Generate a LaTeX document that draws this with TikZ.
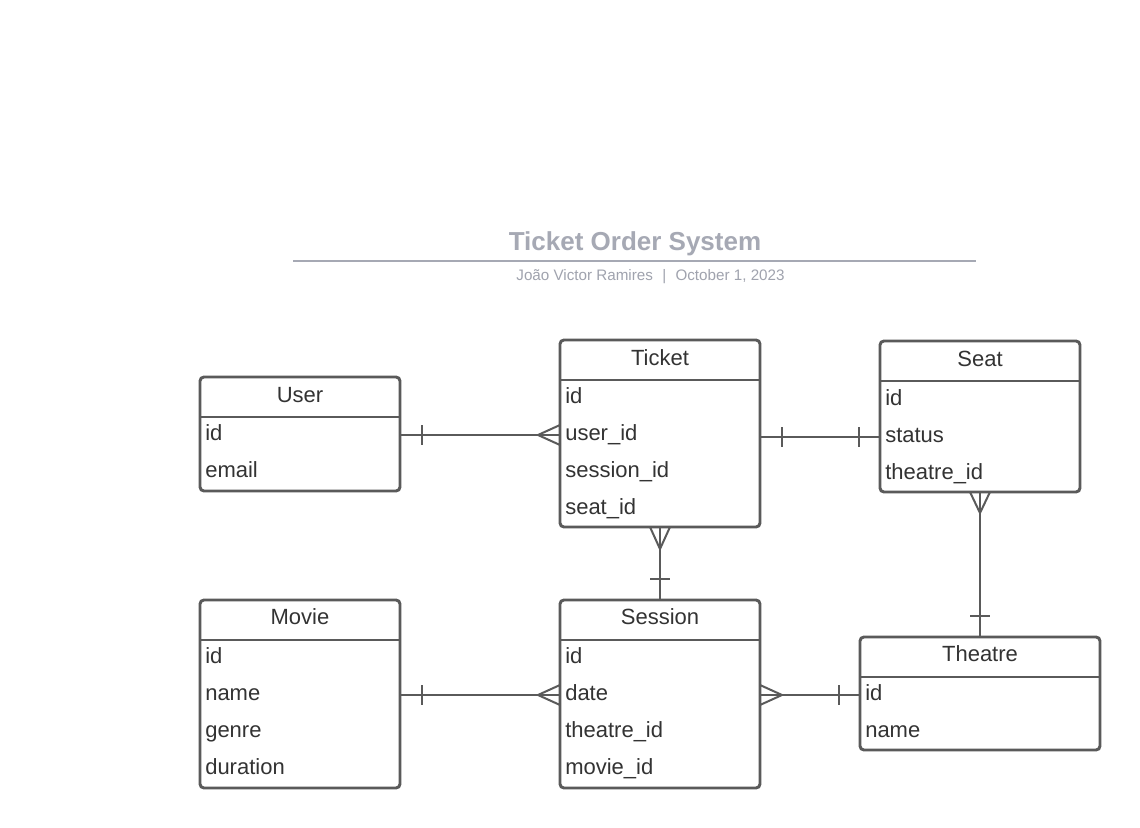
\documentclass[tikz,border=0pt]{standalone}
\usepackage{fontspec}
\setmainfont{Liberation Sans}
\usetikzlibrary{calc}
\definecolor{stroke}{RGB}{90,90,90}
\definecolor{txt}{RGB}{51,51,51}
\definecolor{ttlc}{RGB}{166,169,180}
\definecolor{subc}{RGB}{160,163,174}
\begin{document}
\begin{tikzpicture}[x=0.75pt,y=-0.75pt,
  box/.style={draw=stroke,line width=2.2pt,rounded corners=3pt,outer sep=0pt,inner sep=0pt,anchor=north west,minimum width=150pt},
  sep/.style={draw=stroke,line width=2.2pt},
  hdr/.style={text=txt,font=\fontsize{16.5}{20}\selectfont,inner sep=0pt,anchor=base},
  row/.style={text=txt,font=\fontsize{16.5}{20}\selectfont,inner sep=0pt,anchor=base west,text height=10pt,text depth=2.5pt},
  conn/.style={draw=stroke,line width=1.5pt},
  ttl/.style={text=ttlc,font=\fontsize{19.5}{24}\selectfont\bfseries,inner sep=0pt,anchor=base},
  sub/.style={text=subc,font=\fontsize{11.4}{13}\selectfont,inner sep=0pt,anchor=base}]
\useasboundingbox (0,0) rectangle (1140,828);
\fill[white] (0,0) rectangle (1140,828);

% title
\node[ttl] (title) at (635,250) {Ticket Order System};
\draw[draw=ttlc,line width=1.5pt] (293,261) -- (976,261);
\node[sub] (subtitle) at (650.5,280.5) {João Victor Ramires\hspace{7pt}|\hspace{7pt}October 1, 2023};

% User
\node[box,minimum height=85.5pt] (user) at (200,377) {};
\draw[sep] (user.north west) ++(0,40) -- ++(200,0);
\node[hdr] (userT) at (300,402) {User};
\node[row] (uid) at (205,440) {id};
\node[row] (uemail) at (205,477) {email};

% Ticket
\node[box,minimum height=140.25pt] (ticket) at (560,340) {};
\draw[sep] (ticket.north west) ++(0,40) -- ++(200,0);
\node[hdr] (ticketT) at (660,365) {Ticket};
\node[row] (tid) at (565,403) {id};
\node[row] (tuser) at (565,440) {user\_id};
\node[row] (tsession) at (565,477) {session\_id};
\node[row] (tseat) at (565,514) {seat\_id};

% Seat
\node[box,minimum height=113.25pt] (seat) at (880,341) {};
\draw[sep] (seat.north west) ++(0,40) -- ++(200,0);
\node[hdr] (seatT) at (980,366) {Seat};
\node[row] (sid) at (885,405) {id};
\node[row] (sstatus) at (885,442) {status};
\node[row] (stheatre) at (885,479) {theatre\_id};

% Movie
\node[box,minimum height=141pt] (movie) at (200,600) {};
\draw[sep] (movie.north west) ++(0,40) -- ++(200,0);
\node[hdr] (movieT) at (300,624) {Movie};
\node[row] (mid) at (205,663) {id};
\node[row] (mname) at (205,700) {name};
\node[row] (mgenre) at (205,737) {genre};
\node[row] (mdur) at (205,774) {duration};

% Session
\node[box,minimum height=141pt] (session) at (560,600) {};
\draw[sep] (session.north west) ++(0,40) -- ++(200,0);
\node[hdr] (sessionT) at (660,624) {Session};
\node[row] (seid) at (565,663) {id};
\node[row] (sedate) at (565,700) {date};
\node[row] (setheatre) at (565,737) {theatre\_id};
\node[row] (semovie) at (565,774) {movie\_id};

% Theatre
\node[box,minimum width=180pt,minimum height=84.75pt] (theatre) at (860,637) {};
\draw[sep] (theatre.north west) ++(0,40) -- ++(240,0);
\node[hdr] (theatreT) at (980,661) {Theatre};
\node[row] (thid) at (865,700) {id};
\node[row] (thname) at (865,737) {name};

% User -- Ticket (one to many)
\coordinate (a1) at (user.east |- uid);
\coordinate (b1) at (ticket.west |- tuser);
\draw[conn] (a1) -- (b1);
\draw[conn] ($(a1)+(22,-10)$) -- ++(0,20);
\draw[conn] ($(b1)+(0,-10)$) -- ++(-22,10) -- ++(22,10);

% Ticket -- Seat (one to one)
\coordinate (a2) at (ticket.east |- sstatus);
\coordinate (b2) at (seat.west |- sstatus);
\draw[conn] (a2) -- (b2);
\draw[conn] ($(a2)+(22,-10)$) -- ++(0,20);
\draw[conn] ($(b2)+(-21,-10)$) -- ++(0,20);

% Seat -- Theatre
\draw[conn] (seat.south) -- (theatre.north);
\draw[conn] ($(seat.south)+(-10,0)$) -- ++(10,21) -- ++(10,-21);
\draw[conn] ($(theatre.north)+(-10,-21)$) -- ++(20,0);

% Ticket -- Session
\draw[conn] (ticket.south) -- (session.north);
\draw[conn] ($(ticket.south)+(-10,0)$) -- ++(10,22) -- ++(10,-22);
\draw[conn] ($(session.north)+(-10,-21)$) -- ++(20,0);

% Movie -- Session
\coordinate (a3) at (movie.east |- mname);
\coordinate (b3) at (session.west |- sedate);
\draw[conn] (a3) -- (b3);
\draw[conn] ($(a3)+(22,-10)$) -- ++(0,20);
\draw[conn] ($(b3)+(0,-10)$) -- ++(-22,10) -- ++(22,10);

% Session -- Theatre
\coordinate (a4) at (session.east |- sedate);
\coordinate (b4) at (theatre.west |- thid);
\draw[conn] (a4) -- (b4);
\draw[conn] ($(a4)+(0,-10)$) -- ++(22,10) -- ++(-22,10);
\draw[conn] ($(b4)+(-21,-10)$) -- ++(0,20);
\end{tikzpicture}
\end{document}
